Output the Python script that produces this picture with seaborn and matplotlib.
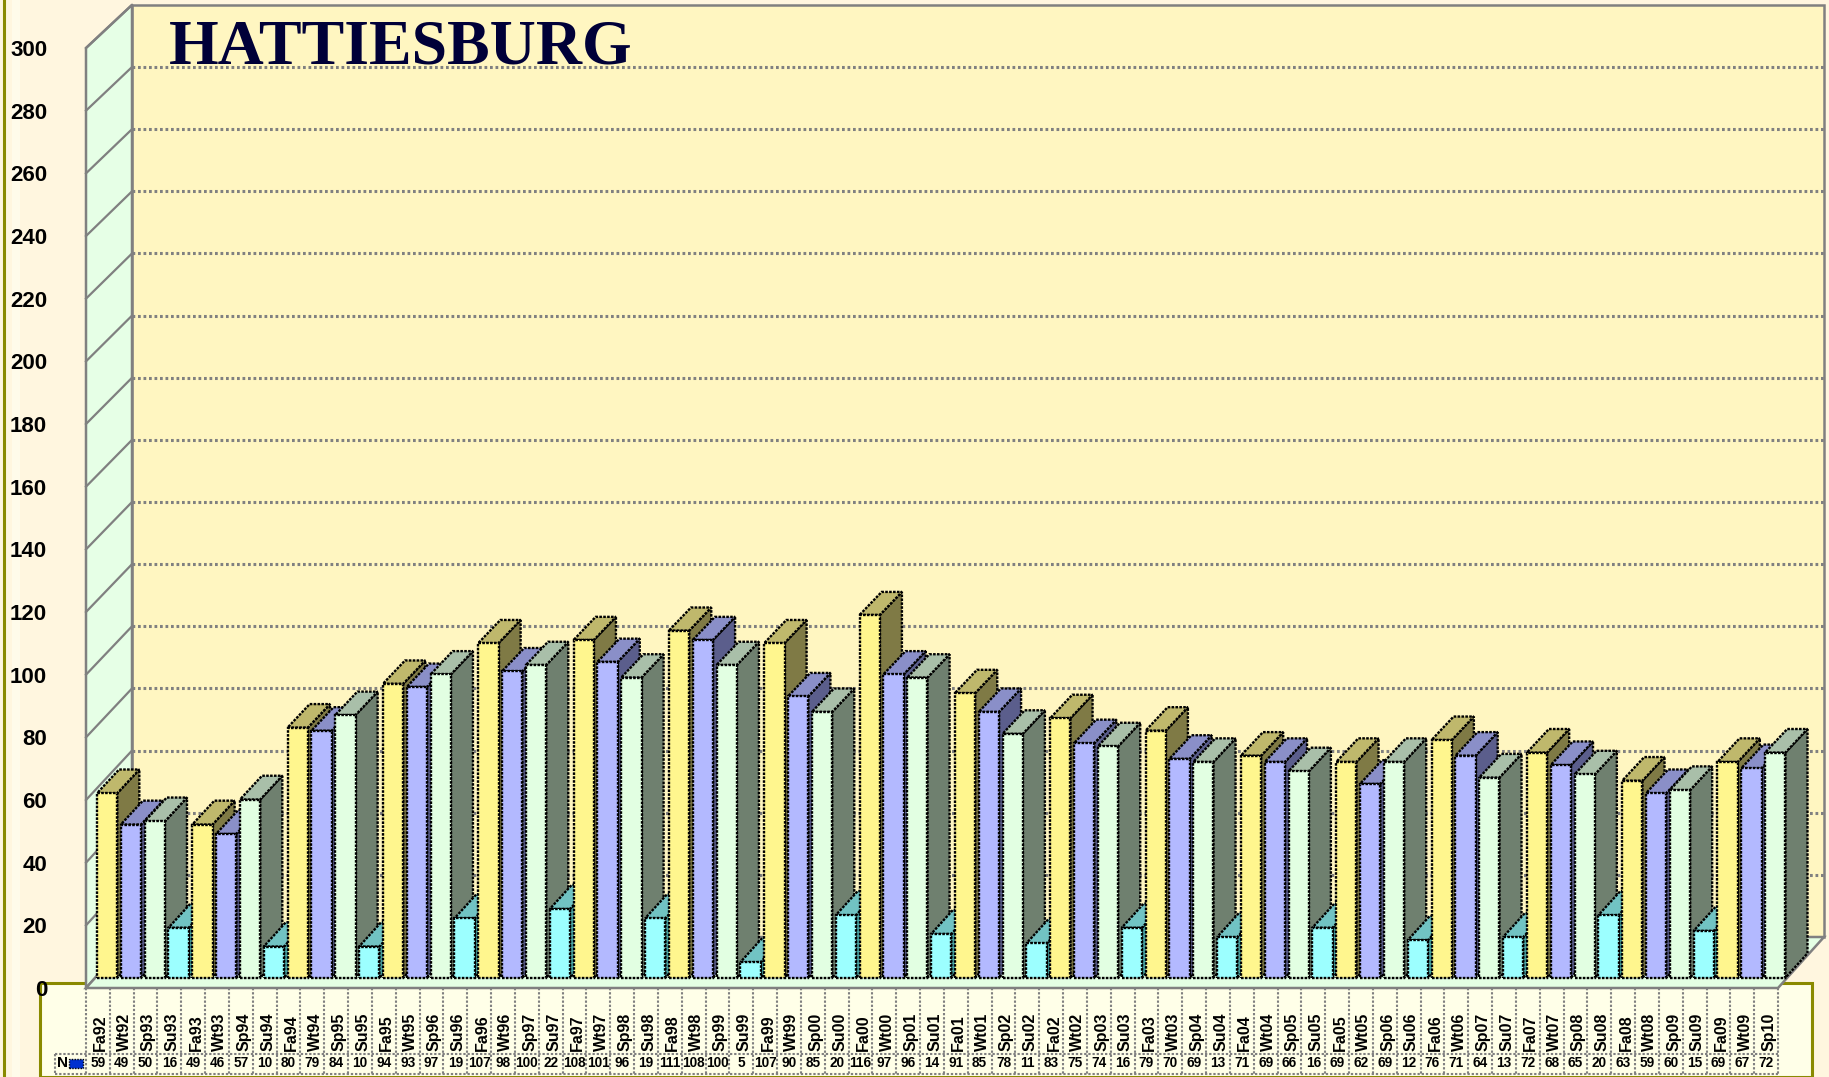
import matplotlib
matplotlib.use("Agg")
import matplotlib.pyplot as plt
import pandas as pd
import seaborn as sns
from matplotlib import font_manager
from matplotlib.patches import Polygon, Rectangle
from matplotlib.lines import Line2D
from matplotlib.transforms import Affine2D

# ---- data -------------------------------------------------------------
terms = ["Fa92", "Wt92", "Sp93", "Su93", "Fa93", "Wt93", "Sp94", "Su94",
         "Fa94", "Wt94", "Sp95", "Su95", "Fa95", "Wt95", "Sp96", "Su96",
         "Fa96", "Wt96", "Sp97", "Su97", "Fa97", "Wt97", "Sp98", "Su98",
         "Fa98", "Wt98", "Sp99", "Su99", "Fa99", "Wt99", "Sp00", "Su00",
         "Fa00", "Wt00", "Sp01", "Su01", "Fa01", "Wt01", "Sp02", "Su02",
         "Fa02", "Wt02", "Sp03", "Su03", "Fa03", "Wt03", "Sp04", "Su04",
         "Fa04", "Wt04", "Sp05", "Su05", "Fa05", "Wt05", "Sp06", "Su06",
         "Fa06", "Wt06", "Sp07", "Su07", "Fa07", "Wt07", "Sp08", "Su08",
         "Fa08", "Wt08", "Sp09", "Su09", "Fa09", "Wt09", "Sp10"]
students = [59, 49, 50, 16, 49, 46, 57, 10, 80, 79, 84, 10, 94, 93, 97, 19,
            107, 98, 100, 22, 108, 101, 96, 19, 111, 108, 100, 5, 107, 90, 85, 20,
            116, 97, 96, 14, 91, 85, 78, 11, 83, 75, 74, 16, 79, 70, 69, 13,
            71, 69, 66, 16, 69, 62, 69, 12, 76, 71, 64, 13, 72, 68, 65, 20,
            63, 59, 60, 15, 69, 67, 72]
y_ticks = list(range(0, 301, 20))
title_text = "HATTIESBURG"
series_name = "N"

season_order = ["Fa", "Wt", "Sp", "Su"]
front_colors = {"Fa": "#FFF68E", "Wt": "#B3B9FF", "Sp": "#E2FFE2", "Su": "#9CFFFF"}
top_colors = {"Fa": "#BFB86C", "Wt": "#8A8FC8", "Sp": "#A9BFA9", "Su": "#71C3C3"}
side_colors = {"Fa": "#7F7A45", "Wt": "#5B5E8C", "Sp": "#6F806F", "Su": "#4DABAB"}

df = pd.DataFrame({"term": terms, "students": students,
                   "season": [t[:2] for t in terms]})

# narrow face for the value row when available
installed = {f.name for f in font_manager.fontManager.ttflist}
narrow = "Liberation Sans Narrow" in installed
value_family = "Liberation Sans Narrow" if narrow else "Liberation Sans"
value_size = 11.5 if narrow else 9.8

# ---- figure geometry (pixels) -------------------------------------------
W, H = 1829, 1077
fig = plt.figure(figsize=(W / 100, H / 100), dpi=100, facecolor="#FFF6DF")


def fx(px):
    return px / W


def fy(py):
    return 1 - py / H


ncat = len(terms)
ax = fig.add_axes([fx(86), fy(988), fx(1778) - fx(86), fy(48) - fy(988)])
ax.patch.set_visible(False)
px_per_cat = (1778 - 86) / ncat
px_per_unit = (988 - 48) / 300.0

# oblique depth model: d=0 front of floor, d=1 back wall
DEPTH_X = 46 / px_per_cat
BACK_Y0 = (988 - 937) / px_per_unit
BACK_SCALE = 3.107 / px_per_unit
D_FRONT, D_BACK = 0.2, 0.68


def proj(x, v, d):
    return (x + DEPTH_X * d, v * (1 - (1 - BACK_SCALE) * d) + BACK_Y0 * d)


def depth_transform(d):
    return (Affine2D().scale(1, 1 - (1 - BACK_SCALE) * d)
            .translate(DEPTH_X * d, BACK_Y0 * d) + ax.transData)


GRID = "#808080"
EDGE_LW = 1.7
edge_ls = (0, (1.1, 0.55))

# ---- walls and floor ----------------------------------------------------
x_lo, x_hi = -0.5, ncat - 0.5
back_wall = Polygon([proj(x_lo, 0, 1), proj(x_hi, 0, 1), proj(x_hi, 300, 1),
                     proj(x_lo, 300, 1)], closed=True, fc="#FFF6C1",
                    ec=GRID, lw=1.8, zorder=1, clip_on=False)
left_wall = Polygon([proj(x_lo, 0, 0), proj(x_lo, 0, 1), proj(x_lo, 300, 1),
                     proj(x_lo, 300, 0)], closed=True, fc="#E6FFE6",
                    ec=GRID, lw=1.8, zorder=1, clip_on=False)
floor = Polygon([proj(x_lo, 0, 0), proj(x_hi, 0, 0), proj(x_hi, 0, 1),
                 proj(x_lo, 0, 1)], closed=True, fc="#E4FFE4",
                ec=GRID, lw=1.8, zorder=1.5, clip_on=False)
for p in (back_wall, left_wall, floor):
    ax.add_patch(p)

for v in y_ticks[1:-1]:
    a, b = proj(x_lo, v, 1), proj(x_hi, v, 1)
    ax.add_line(Line2D([a[0], b[0]], [a[1], b[1]], color=GRID, lw=2.2,
                       ls=(0, (0.9, 0.9)), zorder=1.2, clip_on=False))
for v in y_ticks[1:]:
    a, b = proj(x_lo, v, 0), proj(x_lo, v, 1)
    ax.add_line(Line2D([a[0], b[0]], [a[1], b[1]], color=GRID, lw=1.6,
                       zorder=1.2, clip_on=False))

# ---- bars ---------------------------------------------------------------
sns.barplot(data=df, x="term", y="students", hue="season", order=terms,
            hue_order=season_order, palette=front_colors, dodge=False,
            width=0.85, saturation=1, legend=False, ax=ax,
            edgecolor="black", linewidth=EDGE_LW, linestyle=edge_ls)

bars = [p for p in ax.patches if isinstance(p, Rectangle) and p.get_height() > 0]
front_tf = depth_transform(D_FRONT)
for p in bars:
    x0, w, h = p.get_x(), p.get_width(), p.get_height()
    i = int(round(x0 + w / 2))
    season = terms[i][:2]
    z = 5 + i * 0.01
    p.set_transform(front_tf)
    p.set_clip_on(False)
    p.set_zorder(z + 0.005)
    top = Polygon([proj(x0, h, D_FRONT), proj(x0 + w, h, D_FRONT),
                   proj(x0 + w, h, D_BACK), proj(x0, h, D_BACK)], closed=True,
                  fc=top_colors[season], ec="black", lw=EDGE_LW, ls=edge_ls,
                  zorder=z, clip_on=False)
    side = Polygon([proj(x0 + w, 0, D_FRONT), proj(x0 + w, h, D_FRONT),
                    proj(x0 + w, h, D_BACK), proj(x0 + w, 0, D_BACK)], closed=True,
                   fc=side_colors[season], ec="black", lw=EDGE_LW, ls=edge_ls,
                   zorder=z, clip_on=False)
    ax.add_patch(side)
    ax.add_patch(top)

# ---- axis ---------------------------------------------------------------
ax.set_xlim(x_lo, x_hi)
ax.set_ylim(0, 300)
ax.set_yticks(y_ticks)
ax.set_yticklabels([str(t) for t in y_ticks], fontsize=16, fontweight="bold",
                   family="Liberation Sans")
ax.tick_params(axis="y", length=0, pad=28)
ax.set_xticks([])
ax.set_xlabel("")
ax.set_ylabel("")
for s in ax.spines.values():
    s.set_visible(False)

# ---- data table ---------------------------------------------------------
def ydat(py):
    return (988 - py) / px_per_unit


def xdat(px):
    return (px - 86) / px_per_cat - 0.5


y_row = ydat(1054)
y_bot = ydat(1074)
x_key = xdat(55)
tbl_kw = dict(color=GRID, lw=1.5, ls=(0, (1.1, 0.9)), zorder=2, clip_on=False)
for k in range(ncat + 1):
    xb = x_lo + k
    ax.add_line(Line2D([xb, xb], [0, y_bot], **tbl_kw))
ax.add_line(Line2D([x_key, x_hi], [y_row, y_row], **tbl_kw))
ax.add_line(Line2D([x_key, x_hi], [y_bot, y_bot], **tbl_kw))
ax.add_line(Line2D([x_key, x_key], [y_row, y_bot], **tbl_kw))

for i, (t, n) in enumerate(zip(terms, students)):
    ax.text(i + 0.12, ydat(1051), t, rotation=90, ha="center", va="bottom",
            fontsize=11.5, fontweight="bold", family="Liberation Sans",
            clip_on=False, zorder=3)
    ax.text(i, ydat(1063), str(n), ha="center", va="center", fontsize=value_size,
            fontweight="bold", family=value_family, clip_on=False, zorder=3)

ax.text(xdat(57), ydat(1063), series_name, ha="left", va="center", fontsize=11,
        fontweight="bold", family="Liberation Sans", clip_on=False, zorder=3)
ax.add_patch(Rectangle((xdat(69), ydat(1068)), xdat(83) - xdat(69),
                       ydat(1059) - ydat(1068), fc="#0030D0", ec="black",
                       lw=1, ls=(0, (1, 1)), zorder=3, clip_on=False))

# ---- chart area frame ---------------------------------------------------
fig.add_artist(Rectangle((fx(12), 0), fx(20) - fx(12), 1, transform=fig.transFigure,
                         fc="#FFFBEA", ec="none", zorder=-2))
fig.add_artist(Rectangle((fx(40), 0), fx(1812) - fx(40), fy(983), transform=fig.transFigure,
                         fc="#FFFFE8", ec="#8A8A00", lw=2.2, zorder=-1))
fig.add_artist(Line2D([fx(4), fx(4)], [0, 1], transform=fig.transFigure,
                      color="#8A8A00", lw=2.2, zorder=-1))

# ---- title --------------------------------------------------------------
fig.text(fx(169), fy(63), title_text, ha="left", va="baseline", fontsize=46,
         fontweight="bold", family="Liberation Serif", color="#000038", zorder=10)

fig.savefig("out.png", dpi=100, facecolor=fig.get_facecolor())
